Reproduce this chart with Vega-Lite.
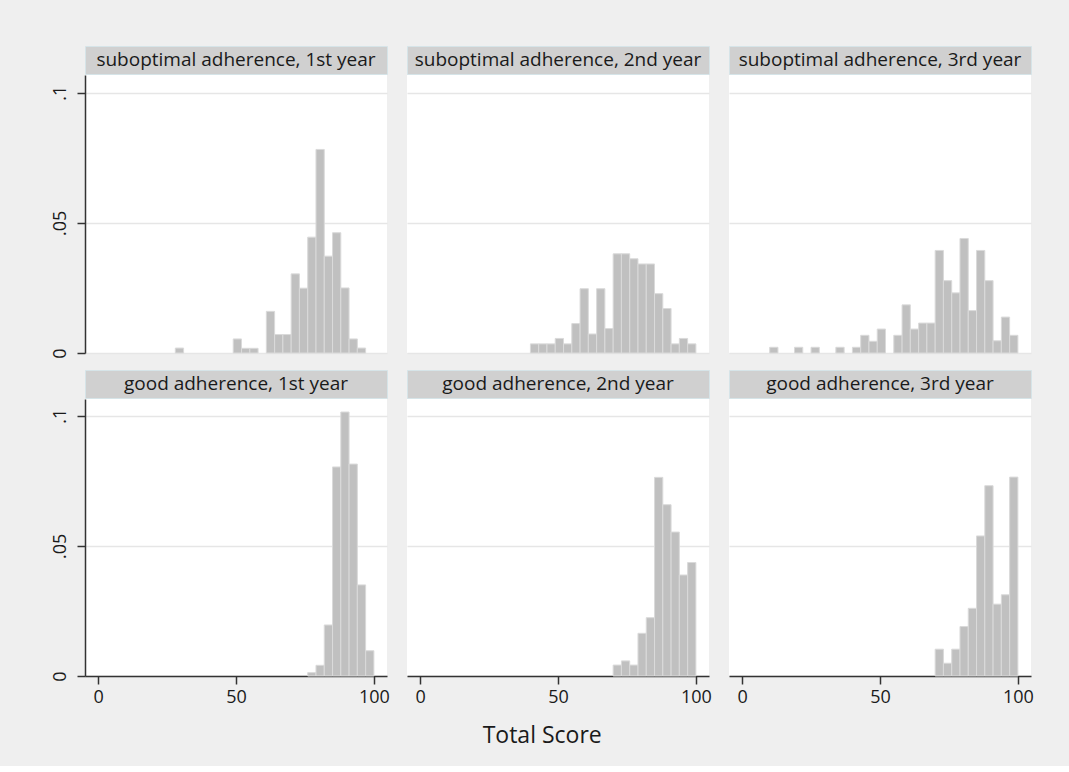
{
  "$schema": "https://vega.github.io/schema/vega-lite/v6.json",
  "background": "#efefef",
  "padding": {"left": 51, "top": 45, "right": 36, "bottom": 18},
  "title": {"text": "Total Score", "orient": "bottom", "anchor": "middle", "fontSize": 23, "fontWeight": "normal", "font": "Open Sans", "color": "#1a1a1a", "offset": 19},
  "config": {
    "font": "Open Sans",
    "view": {"fill": "white", "stroke": null},
    "axis": {"labelFont": "Open Sans", "labelFontSize": 18, "labelColor": "#1a1a1a", "domainColor": "#333333", "tickColor": "#333333", "domainWidth": 1.5, "tickWidth": 1.5, "tickSize": 8, "gridColor": "#e6e6e6", "gridWidth": 1.5}
  },
  "datasets": {
    "hist": [
      {"panel": "suboptimal adherence, 1st year", "lo": 28, "hi": 31, "density": 0.0019},
      {"panel": "suboptimal adherence, 1st year", "lo": 49, "hi": 52, "density": 0.0054},
      {"panel": "suboptimal adherence, 1st year", "lo": 52, "hi": 55, "density": 0.0018},
      {"panel": "suboptimal adherence, 1st year", "lo": 55, "hi": 58, "density": 0.0018},
      {"panel": "suboptimal adherence, 1st year", "lo": 61, "hi": 64, "density": 0.016},
      {"panel": "suboptimal adherence, 1st year", "lo": 64, "hi": 67, "density": 0.0071},
      {"panel": "suboptimal adherence, 1st year", "lo": 67, "hi": 70, "density": 0.0071},
      {"panel": "suboptimal adherence, 1st year", "lo": 70, "hi": 73, "density": 0.0304},
      {"panel": "suboptimal adherence, 1st year", "lo": 73, "hi": 76, "density": 0.0249},
      {"panel": "suboptimal adherence, 1st year", "lo": 76, "hi": 79, "density": 0.0445},
      {"panel": "suboptimal adherence, 1st year", "lo": 79, "hi": 82, "density": 0.0782},
      {"panel": "suboptimal adherence, 1st year", "lo": 82, "hi": 85, "density": 0.0372},
      {"panel": "suboptimal adherence, 1st year", "lo": 85, "hi": 88, "density": 0.0462},
      {"panel": "suboptimal adherence, 1st year", "lo": 88, "hi": 91, "density": 0.025},
      {"panel": "suboptimal adherence, 1st year", "lo": 91, "hi": 94, "density": 0.0054},
      {"panel": "suboptimal adherence, 1st year", "lo": 94, "hi": 97, "density": 0.0019},

      {"panel": "suboptimal adherence, 2nd year", "lo": 40, "hi": 43, "density": 0.0035},
      {"panel": "suboptimal adherence, 2nd year", "lo": 43, "hi": 46, "density": 0.0035},
      {"panel": "suboptimal adherence, 2nd year", "lo": 46, "hi": 49, "density": 0.0035},
      {"panel": "suboptimal adherence, 2nd year", "lo": 49, "hi": 52, "density": 0.0056},
      {"panel": "suboptimal adherence, 2nd year", "lo": 52, "hi": 55, "density": 0.0035},
      {"panel": "suboptimal adherence, 2nd year", "lo": 55, "hi": 58, "density": 0.0113},
      {"panel": "suboptimal adherence, 2nd year", "lo": 58, "hi": 61, "density": 0.0247},
      {"panel": "suboptimal adherence, 2nd year", "lo": 61, "hi": 64, "density": 0.0073},
      {"panel": "suboptimal adherence, 2nd year", "lo": 64, "hi": 67, "density": 0.0247},
      {"panel": "suboptimal adherence, 2nd year", "lo": 67, "hi": 70, "density": 0.0094},
      {"panel": "suboptimal adherence, 2nd year", "lo": 70, "hi": 73, "density": 0.0381},
      {"panel": "suboptimal adherence, 2nd year", "lo": 73, "hi": 76, "density": 0.0381},
      {"panel": "suboptimal adherence, 2nd year", "lo": 76, "hi": 79, "density": 0.0362},
      {"panel": "suboptimal adherence, 2nd year", "lo": 79, "hi": 82, "density": 0.0342},
      {"panel": "suboptimal adherence, 2nd year", "lo": 82, "hi": 85, "density": 0.0342},
      {"panel": "suboptimal adherence, 2nd year", "lo": 85, "hi": 88, "density": 0.0228},
      {"panel": "suboptimal adherence, 2nd year", "lo": 88, "hi": 91, "density": 0.0171},
      {"panel": "suboptimal adherence, 2nd year", "lo": 91, "hi": 94, "density": 0.0035},
      {"panel": "suboptimal adherence, 2nd year", "lo": 94, "hi": 97, "density": 0.0056},
      {"panel": "suboptimal adherence, 2nd year", "lo": 97, "hi": 100, "density": 0.0035},

      {"panel": "suboptimal adherence, 3rd year", "lo": 10, "hi": 13, "density": 0.0022},
      {"panel": "suboptimal adherence, 3rd year", "lo": 19, "hi": 22, "density": 0.0022},
      {"panel": "suboptimal adherence, 3rd year", "lo": 25, "hi": 28, "density": 0.0022},
      {"panel": "suboptimal adherence, 3rd year", "lo": 34, "hi": 37, "density": 0.0022},
      {"panel": "suboptimal adherence, 3rd year", "lo": 40, "hi": 43, "density": 0.0022},
      {"panel": "suboptimal adherence, 3rd year", "lo": 43, "hi": 46, "density": 0.0068},
      {"panel": "suboptimal adherence, 3rd year", "lo": 46, "hi": 49, "density": 0.0045},
      {"panel": "suboptimal adherence, 3rd year", "lo": 49, "hi": 52, "density": 0.0092},
      {"panel": "suboptimal adherence, 3rd year", "lo": 55, "hi": 58, "density": 0.0068},
      {"panel": "suboptimal adherence, 3rd year", "lo": 58, "hi": 61, "density": 0.0185},
      {"panel": "suboptimal adherence, 3rd year", "lo": 61, "hi": 64, "density": 0.0092},
      {"panel": "suboptimal adherence, 3rd year", "lo": 64, "hi": 67, "density": 0.0115},
      {"panel": "suboptimal adherence, 3rd year", "lo": 67, "hi": 70, "density": 0.0115},
      {"panel": "suboptimal adherence, 3rd year", "lo": 70, "hi": 73, "density": 0.0394},
      {"panel": "suboptimal adherence, 3rd year", "lo": 73, "hi": 76, "density": 0.0278},
      {"panel": "suboptimal adherence, 3rd year", "lo": 76, "hi": 79, "density": 0.0231},
      {"panel": "suboptimal adherence, 3rd year", "lo": 79, "hi": 82, "density": 0.044},
      {"panel": "suboptimal adherence, 3rd year", "lo": 82, "hi": 85, "density": 0.0163},
      {"panel": "suboptimal adherence, 3rd year", "lo": 85, "hi": 88, "density": 0.0394},
      {"panel": "suboptimal adherence, 3rd year", "lo": 88, "hi": 91, "density": 0.0278},
      {"panel": "suboptimal adherence, 3rd year", "lo": 91, "hi": 94, "density": 0.0047},
      {"panel": "suboptimal adherence, 3rd year", "lo": 94, "hi": 97, "density": 0.0138},
      {"panel": "suboptimal adherence, 3rd year", "lo": 97, "hi": 100, "density": 0.0068},

      {"panel": "good adherence, 1st year", "lo": 76, "hi": 79, "density": 0.0013},
      {"panel": "good adherence, 1st year", "lo": 79, "hi": 82, "density": 0.0041},
      {"panel": "good adherence, 1st year", "lo": 82, "hi": 85, "density": 0.0196},
      {"panel": "good adherence, 1st year", "lo": 85, "hi": 88, "density": 0.0803},
      {"panel": "good adherence, 1st year", "lo": 88, "hi": 91, "density": 0.1014},
      {"panel": "good adherence, 1st year", "lo": 91, "hi": 94, "density": 0.0814},
      {"panel": "good adherence, 1st year", "lo": 94, "hi": 97, "density": 0.035},
      {"panel": "good adherence, 1st year", "lo": 97, "hi": 100, "density": 0.0097},

      {"panel": "good adherence, 2nd year", "lo": 70, "hi": 73, "density": 0.0042},
      {"panel": "good adherence, 2nd year", "lo": 73, "hi": 76, "density": 0.0058},
      {"panel": "good adherence, 2nd year", "lo": 76, "hi": 79, "density": 0.0042},
      {"panel": "good adherence, 2nd year", "lo": 79, "hi": 82, "density": 0.0164},
      {"panel": "good adherence, 2nd year", "lo": 82, "hi": 85, "density": 0.0224},
      {"panel": "good adherence, 2nd year", "lo": 85, "hi": 88, "density": 0.0763},
      {"panel": "good adherence, 2nd year", "lo": 88, "hi": 91, "density": 0.0658},
      {"panel": "good adherence, 2nd year", "lo": 91, "hi": 94, "density": 0.0553},
      {"panel": "good adherence, 2nd year", "lo": 94, "hi": 97, "density": 0.0388},
      {"panel": "good adherence, 2nd year", "lo": 97, "hi": 100, "density": 0.0436},

      {"panel": "good adherence, 3rd year", "lo": 70, "hi": 73, "density": 0.0103},
      {"panel": "good adherence, 3rd year", "lo": 73, "hi": 76, "density": 0.0049},
      {"panel": "good adherence, 3rd year", "lo": 76, "hi": 79, "density": 0.0103},
      {"panel": "good adherence, 3rd year", "lo": 79, "hi": 82, "density": 0.019},
      {"panel": "good adherence, 3rd year", "lo": 82, "hi": 85, "density": 0.026},
      {"panel": "good adherence, 3rd year", "lo": 85, "hi": 88, "density": 0.0538},
      {"panel": "good adherence, 3rd year", "lo": 88, "hi": 91, "density": 0.0731},
      {"panel": "good adherence, 3rd year", "lo": 91, "hi": 94, "density": 0.0276},
      {"panel": "good adherence, 3rd year", "lo": 94, "hi": 97, "density": 0.0312},
      {"panel": "good adherence, 3rd year", "lo": 97, "hi": 100, "density": 0.0764}
    ],
    "labels": [
      {"panel": "suboptimal adherence, 1st year"},
      {"panel": "suboptimal adherence, 2nd year"},
      {"panel": "suboptimal adherence, 3rd year"},
      {"panel": "good adherence, 1st year"},
      {"panel": "good adherence, 2nd year"},
      {"panel": "good adherence, 3rd year"}
    ]
  },
  "columns": 3,
  "spacing": {"row": 10, "column": 16},
  "concat": [
    {"spacing": 0, "vconcat": [
      {"width": 302, "height": 28, "view": {"fill": "#d0d0d0", "stroke": "#d6e4e8"}, "data": {"name": "labels"}, "transform": [{"filter": "datum.panel == 'suboptimal adherence, 1st year'"}], "mark": {"type": "text", "fontSize": 19, "color": "#1a1a1a", "font": "Open Sans"}, "encoding": {"text": {"field": "panel"}}},
      {"width": 302, "height": 278, "data": {"name": "hist"}, "transform": [{"filter": "datum.panel == 'suboptimal adherence, 1st year'"}], "mark": {"type": "bar", "orient": "vertical", "fill": "#c0c0c0", "stroke": "#dadada", "strokeWidth": 1},
        "encoding": {
          "x": {"field": "lo", "type": "quantitative", "scale": {"domain": [-4.75, 104.75], "nice": false, "zero": false, "padding": 0}, "axis": null},
          "x2": {"field": "hi"},
          "y": {"field": "density", "type": "quantitative", "scale": {"domain": [0, 0.1068], "nice": false}, "axis": {"values": [0, 0.05, 0.1], "title": null, "labelAngle": -90, "labelPadding": 8, "grid": true, "labelExpr": "datum.value == 0 ? '0' : datum.value == 0.05 ? '.05' : '.1'"}},
          "y2": {"datum": 0}
        }}
    ]},
    {"spacing": 0, "vconcat": [
      {"width": 302, "height": 28, "view": {"fill": "#d0d0d0", "stroke": "#d6e4e8"}, "data": {"name": "labels"}, "transform": [{"filter": "datum.panel == 'suboptimal adherence, 2nd year'"}], "mark": {"type": "text", "fontSize": 19, "color": "#1a1a1a", "font": "Open Sans"}, "encoding": {"text": {"field": "panel"}}},
      {"width": 302, "height": 278, "data": {"name": "hist"}, "transform": [{"filter": "datum.panel == 'suboptimal adherence, 2nd year'"}], "mark": {"type": "bar", "orient": "vertical", "fill": "#c0c0c0", "stroke": "#dadada", "strokeWidth": 1},
        "encoding": {
          "x": {"field": "lo", "type": "quantitative", "scale": {"domain": [-4.75, 104.75], "nice": false, "zero": false, "padding": 0}, "axis": null},
          "x2": {"field": "hi"},
          "y": {"field": "density", "type": "quantitative", "scale": {"domain": [0, 0.1068], "nice": false}, "axis": {"values": [0, 0.05, 0.1], "title": null, "labels": false, "ticks": false, "domain": false, "grid": true}},
          "y2": {"datum": 0}
        }}
    ]},
    {"spacing": 0, "vconcat": [
      {"width": 302, "height": 28, "view": {"fill": "#d0d0d0", "stroke": "#d6e4e8"}, "data": {"name": "labels"}, "transform": [{"filter": "datum.panel == 'suboptimal adherence, 3rd year'"}], "mark": {"type": "text", "fontSize": 19, "color": "#1a1a1a", "font": "Open Sans"}, "encoding": {"text": {"field": "panel"}}},
      {"width": 302, "height": 278, "data": {"name": "hist"}, "transform": [{"filter": "datum.panel == 'suboptimal adherence, 3rd year'"}], "mark": {"type": "bar", "orient": "vertical", "fill": "#c0c0c0", "stroke": "#dadada", "strokeWidth": 1},
        "encoding": {
          "x": {"field": "lo", "type": "quantitative", "scale": {"domain": [-4.75, 104.75], "nice": false, "zero": false, "padding": 0}, "axis": null},
          "x2": {"field": "hi"},
          "y": {"field": "density", "type": "quantitative", "scale": {"domain": [0, 0.1068], "nice": false}, "axis": {"values": [0, 0.05, 0.1], "title": null, "labels": false, "ticks": false, "domain": false, "grid": true}},
          "y2": {"datum": 0}
        }}
    ]},
    {"spacing": 0, "vconcat": [
      {"width": 302, "height": 28, "view": {"fill": "#d0d0d0", "stroke": "#d6e4e8"}, "data": {"name": "labels"}, "transform": [{"filter": "datum.panel == 'good adherence, 1st year'"}], "mark": {"type": "text", "fontSize": 19, "color": "#1a1a1a", "font": "Open Sans"}, "encoding": {"text": {"field": "panel"}}},
      {"width": 302, "height": 277, "data": {"name": "hist"}, "transform": [{"filter": "datum.panel == 'good adherence, 1st year'"}], "mark": {"type": "bar", "orient": "vertical", "fill": "#c0c0c0", "stroke": "#dadada", "strokeWidth": 1},
        "encoding": {
          "x": {"field": "lo", "type": "quantitative", "scale": {"domain": [-4.75, 104.75], "nice": false, "zero": false, "padding": 0}, "axis": {"values": [0, 50, 100], "title": null, "grid": false, "labelPadding": 4}},
          "x2": {"field": "hi"},
          "y": {"field": "density", "type": "quantitative", "scale": {"domain": [0, 0.1064], "nice": false}, "axis": {"values": [0, 0.05, 0.1], "title": null, "labelAngle": -90, "labelPadding": 8, "grid": true, "labelExpr": "datum.value == 0 ? '0' : datum.value == 0.05 ? '.05' : '.1'"}},
          "y2": {"datum": 0}
        }}
    ]},
    {"spacing": 0, "vconcat": [
      {"width": 302, "height": 28, "view": {"fill": "#d0d0d0", "stroke": "#d6e4e8"}, "data": {"name": "labels"}, "transform": [{"filter": "datum.panel == 'good adherence, 2nd year'"}], "mark": {"type": "text", "fontSize": 19, "color": "#1a1a1a", "font": "Open Sans"}, "encoding": {"text": {"field": "panel"}}},
      {"width": 302, "height": 277, "data": {"name": "hist"}, "transform": [{"filter": "datum.panel == 'good adherence, 2nd year'"}], "mark": {"type": "bar", "orient": "vertical", "fill": "#c0c0c0", "stroke": "#dadada", "strokeWidth": 1},
        "encoding": {
          "x": {"field": "lo", "type": "quantitative", "scale": {"domain": [-4.75, 104.75], "nice": false, "zero": false, "padding": 0}, "axis": {"values": [0, 50, 100], "title": null, "grid": false, "labelPadding": 4}},
          "x2": {"field": "hi"},
          "y": {"field": "density", "type": "quantitative", "scale": {"domain": [0, 0.1064], "nice": false}, "axis": {"values": [0, 0.05, 0.1], "title": null, "labels": false, "ticks": false, "domain": false, "grid": true}},
          "y2": {"datum": 0}
        }}
    ]},
    {"spacing": 0, "vconcat": [
      {"width": 302, "height": 28, "view": {"fill": "#d0d0d0", "stroke": "#d6e4e8"}, "data": {"name": "labels"}, "transform": [{"filter": "datum.panel == 'good adherence, 3rd year'"}], "mark": {"type": "text", "fontSize": 19, "color": "#1a1a1a", "font": "Open Sans"}, "encoding": {"text": {"field": "panel"}}},
      {"width": 302, "height": 277, "data": {"name": "hist"}, "transform": [{"filter": "datum.panel == 'good adherence, 3rd year'"}], "mark": {"type": "bar", "orient": "vertical", "fill": "#c0c0c0", "stroke": "#dadada", "strokeWidth": 1},
        "encoding": {
          "x": {"field": "lo", "type": "quantitative", "scale": {"domain": [-4.75, 104.75], "nice": false, "zero": false, "padding": 0}, "axis": {"values": [0, 50, 100], "title": null, "grid": false, "labelPadding": 4}},
          "x2": {"field": "hi"},
          "y": {"field": "density", "type": "quantitative", "scale": {"domain": [0, 0.1064], "nice": false}, "axis": {"values": [0, 0.05, 0.1], "title": null, "labels": false, "ticks": false, "domain": false, "grid": true}},
          "y2": {"datum": 0}
        }}
    ]}
  ]
}
